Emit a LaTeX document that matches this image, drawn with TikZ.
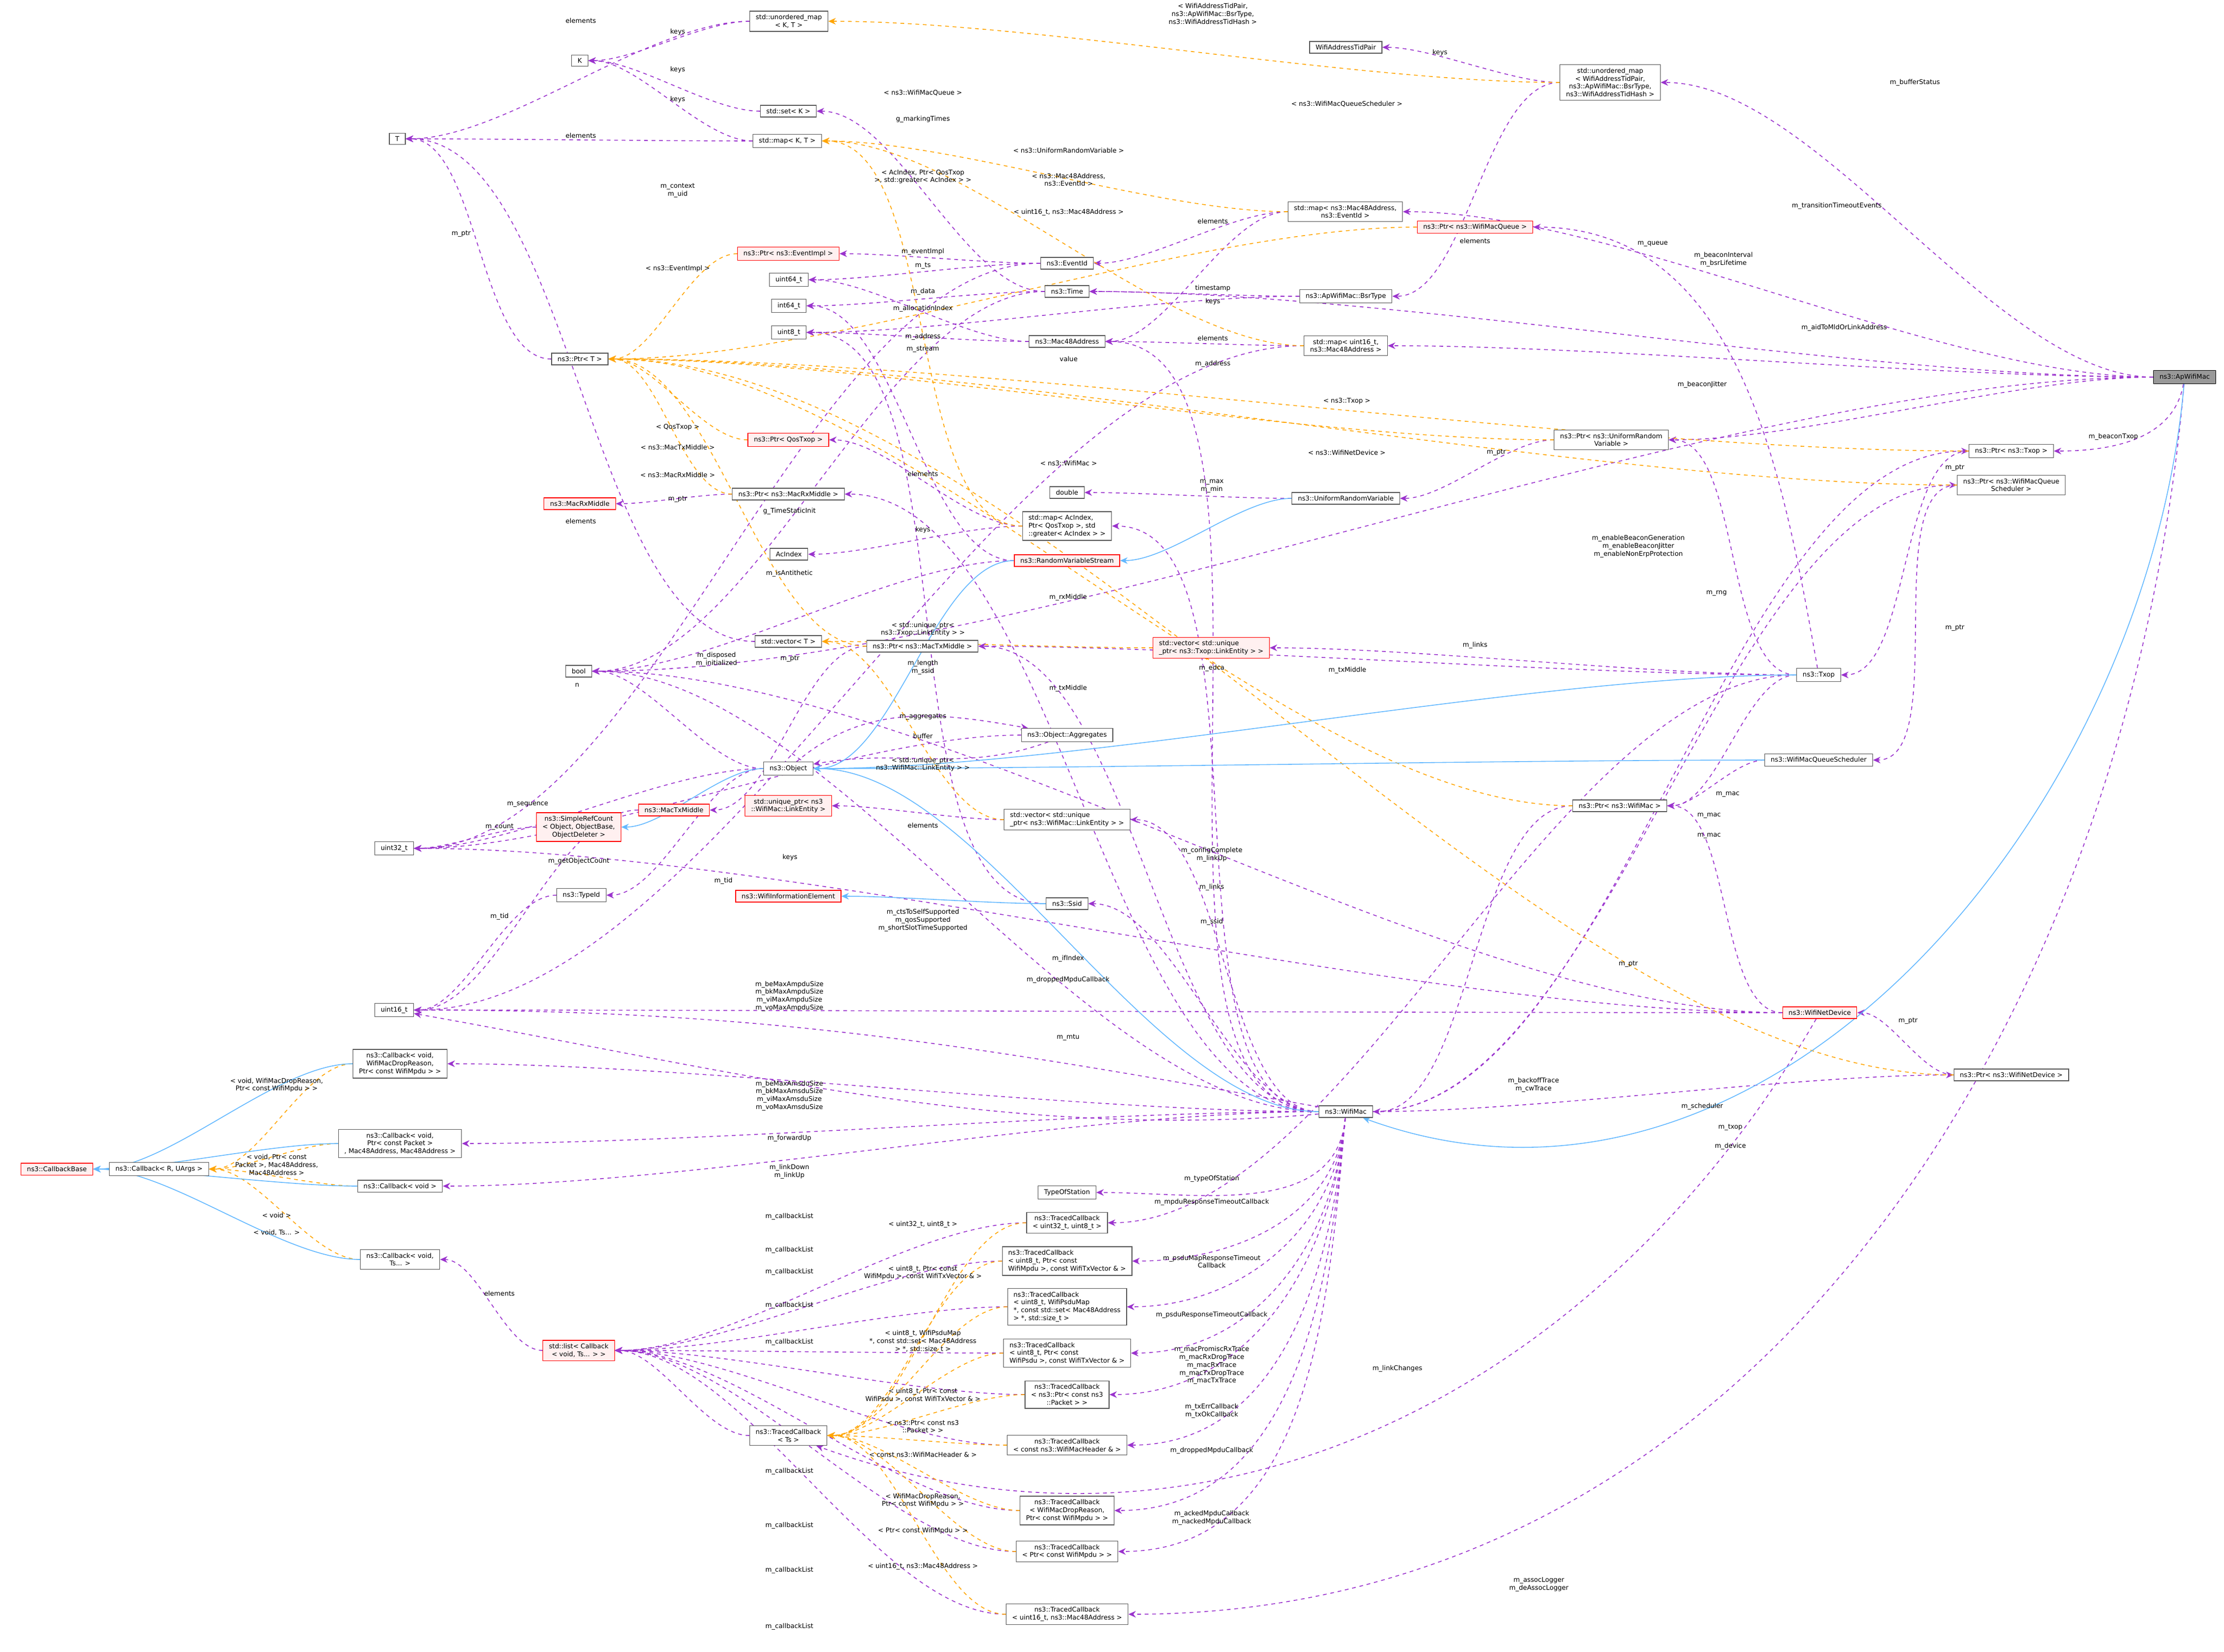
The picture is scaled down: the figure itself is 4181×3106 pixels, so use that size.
\documentclass[tikz,border=0pt]{standalone}
\usepackage{fontspec}
\setmainfont{DejaVu Sans}
\usetikzlibrary{arrows.meta}
\pgfdeclarelayer{bg}\pgfsetlayers{bg,main}
\definecolor{pu}{HTML}{9A32CD}
\definecolor{orr}{HTML}{FFA500}
\definecolor{bl}{HTML}{63B8FF}
\begin{document}
\begin{tikzpicture}[x=0.01cm,y=-0.01cm,
  font=\fontsize{3.5}{4.2}\selectfont,
  bx/.style={draw=black!65,fill=white,line width=0.35pt,inner xsep=3.2pt,inner ysep=1.8pt,align=center},
  rbx/.style={bx,draw=red,fill=red!6},
  gbx/.style={bx,draw=black,fill=black!40},
  lb/.style={inner sep=0.5pt,align=center},
  u/.style={draw=pu,dashed,dash pattern=on 2pt off 2pt,line width=0.45pt,-{Stealth[length=4pt,width=3.5pt]}},
  t/.style={draw=orr,dashed,dash pattern=on 2pt off 2pt,line width=0.45pt,-{Stealth[length=4pt,width=3.5pt]}},
  h/.style={draw=bl,line width=0.45pt,-{Stealth[length=4pt,width=3.5pt]}},
  c/.style={out=180,in=0,looseness=0.7},
  cr/.style={out=0,in=180,looseness=0.7}]
\useasboundingbox (0,0) rectangle (4181,3106);
% nodes
\node[bx] (umKT) at (1483,40) {std::unordered\_map\\< K, T >};
\node[bx] (K) at (1090,114) {K};
\node[bx] (watp) at (2530,89) {WifiAddressTidPair};
\node[bx] (umBsr) at (3027,155) {std::unordered\_map\\< WifiAddressTidPair,\\ ns3::ApWifiMac::BsrType,\\ ns3::WifiAddressTidHash >};
\node[bx] (setK) at (1482,209) {std::set< K >};
\node[bx] (T) at (747,261) {T};
\node[bx] (mapKT) at (1480,265) {std::map< K, T >};
\node[bx] (mapMacEv) at (2529,398) {std::map< ns3::Mac48Address,\\ ns3::EventId >};
\node[rbx] (ptrWMQ) at (2773,427) {ns3::Ptr< ns3::WifiMacQueue >};
\node[rbx] (ptrEvI) at (1482,477) {ns3::Ptr< ns3::EventImpl >};
\node[bx] (evid) at (2006,495) {ns3::EventId};
\node[bx] (u64) at (1483,526) {uint64\_t};
\node[bx] (time) at (2006,548) {ns3::Time};
\node[bx] (bsr) at (2530,557) {ns3::ApWifiMac::BsrType};
\node[bx] (i64) at (1483,575) {int64\_t};
\node[bx] (u8) at (1483,625) {uint8\_t};
\node[bx] (mac48) at (2006,642) {ns3::Mac48Address};
\node[bx] (mapU16) at (2530,650) {std::map< uint16\_t,\\ ns3::Mac48Address >};
\node[bx] (ptrT) at (1090,675) {ns3::Ptr< T >};
\node[gbx] (apw) at (4107,709) {ns3::ApWifiMac};
\node[bx] (ptrURV) at (3029,827) {ns3::Ptr< ns3::UniformRandom\\ Variable >};
\node[rbx] (ptrQos) at (1482,827) {ns3::Ptr< QosTxop >};
\node[bx] (ptrTxop) at (3781,848) {ns3::Ptr< ns3::Txop >};
\node[bx] (ptrWMQS) at (3781,912) {ns3::Ptr< ns3::WifiMacQueue\\ Scheduler >};
\node[bx] (dbl) at (2006,926) {double};
\node[bx] (ptrRx) at (1482,929) {ns3::Ptr< ns3::MacRxMiddle >};
\node[bx] (urv) at (2530,937) {ns3::UniformRandomVariable};
\node[rbx] (rx) at (1090,947) {ns3::MacRxMiddle};
\node[bx,align=left] (mapAc) at (2006,989) {std::map< AcIndex,\\ Ptr< QosTxop >, std\\ ::greater< AcIndex > >};
\node[bx] (acidx) at (1483,1042) {AcIndex};
\node[rbx] (rvs) at (2006,1054) {ns3::RandomVariableStream};
\node[bx] (vecT) at (1482,1206) {std::vector< T >};
\node[bx] (ptrTx) at (1734,1215) {ns3::Ptr< ns3::MacTxMiddle >};
\node[rbx,align=left] (vecTxLE) at (2277,1218) {std::vector< std::unique\\ \_ptr< ns3::Txop::LinkEntity > >};
\node[bx] (bool) at (1088,1262) {bool};
\node[bx] (txop) at (3419,1269) {ns3::Txop};
\node[bx] (aggr) at (2006,1382) {ns3::Object::Aggregates};
\node[bx] (wmqs) at (3419,1429) {ns3::WifiMacQueueScheduler};
\node[bx] (obj) at (1482,1445) {ns3::Object};
\node[bx] (ptrWM) at (3045,1515) {ns3::Ptr< ns3::WifiMac >};
\node[rbx] (upWMLE) at (1482,1515) {std::unique\_ptr< ns3\\ ::WifiMac::LinkEntity >};
\node[rbx] (tx) at (1267,1523) {ns3::MacTxMiddle};
\node[bx,align=left] (vecWMLE) at (2006,1541) {std::vector< std::unique\\ \_ptr< ns3::WifiMac::LinkEntity > >};
\node[rbx] (src) at (1088,1555) {ns3::SimpleRefCount\\ < Object, ObjectBase,\\ ObjectDeleter >};
\node[bx] (u32) at (741,1595) {uint32\_t};
\node[bx] (tid) at (1093,1683) {ns3::TypeId};
\node[rbx] (wie) at (1482,1685) {ns3::WifiInformationElement};
\node[bx] (ssid) at (2006,1699) {ns3::Ssid};
\node[bx] (u16) at (741,1899) {uint16\_t};
\node[rbx] (wnd) at (3421,1904) {ns3::WifiNetDevice};
\node[bx] (cbDrop) at (752,2000) {ns3::Callback< void,\\ WifiMacDropReason,\\ Ptr< const WifiMpdu > >};
\node[bx] (ptrWND) at (3781,2021) {ns3::Ptr< ns3::WifiNetDevice >};
\node[bx] (wm) at (2530,2090) {ns3::WifiMac};
\node[bx] (cbPkt) at (752,2150) {ns3::Callback< void,\\ Ptr< const Packet >\\ , Mac48Address, Mac48Address >};
\node[rbx] (cbBase) at (107,2198) {ns3::CallbackBase};
\node[bx] (cbRU) at (299,2198) {ns3::Callback< R, UArgs >};
\node[bx] (cbVoid) at (752,2230) {ns3::Callback< void >};
\node[bx] (tos) at (2006,2242) {TypeOfStation};
\node[bx] (tc32) at (2006,2299) {ns3::TracedCallback\\ < uint32\_t, uint8\_t >};
\node[bx] (cbTs) at (752,2368) {ns3::Callback< void,\\ Ts... >};
\node[bx,align=left] (tcMpdu) at (2006,2371) {ns3::TracedCallback\\ < uint8\_t, Ptr< const\\ WifiMpdu >, const WifiTxVector \& >};
\node[bx,align=left] (tcMap) at (2006,2457) {ns3::TracedCallback\\ < uint8\_t, WifiPsduMap\\ *, const std::set< Mac48Address\\ > *, std::size\_t >};
\node[rbx] (list) at (1088,2539) {std::list< Callback\\ < void, Ts... > >};
\node[bx,align=left] (tcPsdu) at (2006,2544) {ns3::TracedCallback\\ < uint8\_t, Ptr< const\\ WifiPsdu >, const WifiTxVector \& >};
\node[bx] (tcPkt) at (2006,2622) {ns3::TracedCallback\\ < ns3::Ptr< const ns3\\ ::Packet > >};
\node[bx] (tcTs) at (1482,2699) {ns3::TracedCallback\\ < Ts >};
\node[bx] (tcHdr) at (2006,2717) {ns3::TracedCallback\\ < const ns3::WifiMacHeader \& >};
\node[bx] (tcDrop) at (2006,2840) {ns3::TracedCallback\\ < WifiMacDropReason,\\ Ptr< const WifiMpdu > >};
\node[bx] (tcPM) at (2006,2917) {ns3::TracedCallback\\ < Ptr< const WifiMpdu > >};
\node[bx] (tcAssoc) at (2006,3035) {ns3::TracedCallback\\ < uint16\_t, ns3::Mac48Address >};
% labels
\node[lb] (l1) at (1092,39) {elements};
\node[lb] (l2) at (1274,60) {keys};
\node[lb] (l3) at (1274,131) {keys};
\node[lb] (l4) at (1274,187) {keys};
\node[lb] (l5) at (1092,255) {elements};
\node[lb] (l6) at (2280,26) {< WifiAddressTidPair,\\ ns3::ApWifiMac::BsrType,\\ ns3::WifiAddressTidHash >};
\node[lb] (l7) at (1735,175) {< ns3::WifiMacQueue >};
\node[lb] (l8) at (2532,196) {< ns3::WifiMacQueueScheduler >};
\node[lb] (l9) at (1735,224) {g\_markingTimes};
\node[lb] (l10) at (2009,283) {< ns3::UniformRandomVariable >};
\node[lb] (l11) at (2009,338) {< ns3::Mac48Address,\\ ns3::EventId >};
\node[lb] (l12) at (1735,332) {< AcIndex, Ptr< QosTxop\\ >, std::greater< AcIndex > >};
\node[lb] (l13) at (1274,358) {m\_context\\ m\_uid};
\node[lb] (l14) at (2009,399) {< uint16\_t, ns3::Mac48Address >};
\node[lb] (l15) at (2280,416) {elements};
\node[lb] (l16) at (1735,473) {m\_eventImpl};
\node[lb] (l17) at (1274,505) {< ns3::EventImpl >};
\node[lb] (l18) at (1735,500) {m\_ts};
\node[lb] (l19) at (2280,542) {timestamp};
\node[lb] (l20) at (1735,548) {m\_data};
\node[lb] (l21) at (2280,567) {keys};
\node[lb] (l22) at (1735,580) {m\_allocationIndex};
\node[lb] (l23) at (1735,633) {m\_address};
\node[lb] (l24) at (2280,636) {elements};
\node[lb] (l25) at (1735,657) {m\_stream};
\node[lb] (l26) at (2009,675) {value};
\node[lb] (l27) at (2280,684) {m\_address};
\node[lb] (l28) at (2532,754) {< ns3::Txop >};
\node[lb] (l29) at (1274,803) {< QosTxop >};
\node[lb] (l30) at (1274,841) {< ns3::MacTxMiddle >};
\node[lb] (l31) at (2532,851) {< ns3::WifiNetDevice >};
\node[lb] (l32) at (2009,871) {< ns3::WifiMac >};
\node[lb] (l33) at (1735,891) {elements};
\node[lb] (l34) at (1274,893) {< ns3::MacRxMiddle >};
\node[lb] (l35) at (1274,939) {m\_ptr};
\node[lb] (l36) at (1092,980) {elements};
\node[lb] (l37) at (867,440) {m\_ptr};
\node[lb] (l38) at (2707,99) {keys};
\node[lb] (l39) at (3600,155) {m\_bufferStatus};
\node[lb] (l40) at (3453,387) {m\_transitionTimeoutEvents};
\node[lb] (l41) at (3107,459) {m\_queue};
\node[lb] (l42) at (3240,488) {m\_beaconInterval\\ m\_bsrLifetime};
\node[lb] (l43) at (2773,453) {elements};
\node[lb] (l44) at (3467,616) {m\_aidToMldOrLinkAddress};
\node[lb] (l45) at (3200,723) {m\_beaconJitter};
\node[lb] (l46) at (2813,851) {m\_ptr};
\node[lb] (l47) at (3973,821) {m\_beaconTxop};
\node[lb] (l48) at (3675,880) {m\_ptr};
\node[lb] (l49) at (2278,914) {m\_max\\ m\_min};
\node[lb] (l50) at (1484,961) {g\_TimeStaticInit};
\node[lb] (l51) at (1735,996) {keys};
\node[lb] (l52) at (3080,1027) {m\_enableBeaconGeneration\\ m\_enableBeaconJitter\\ m\_enableNonErpProtection};
\node[lb] (l53) at (1484,1078) {m\_isAntithetic};
\node[lb] (l54) at (3227,1115) {m\_rng};
\node[lb] (l55) at (2008,1123) {m\_rxMiddle};
\node[lb] (l56) at (3675,1181) {m\_ptr};
\node[lb] (l57) at (1735,1183) {< std::unique\_ptr<\\ ns3::Txop::LinkEntity > >};
\node[lb] (l58) at (2773,1213) {m\_links};
\node[lb] (l59) at (1485,1239) {m\_ptr};
\node[lb] (l60) at (1347,1240) {m\_disposed\\ m\_initialized};
\node[lb] (l61) at (1735,1255) {m\_length\\ m\_ssid};
\node[lb] (l62) at (2278,1256) {m\_edca};
\node[lb] (l63) at (2533,1260) {m\_txMiddle};
\node[lb] (l64) at (1085,1288) {n};
\node[lb] (l65) at (2008,1294) {m\_txMiddle};
\node[lb] (l66) at (1735,1348) {m\_aggregates};
\node[lb] (l67) at (1735,1384) {buffer};
\node[lb] (l68) at (1735,1437) {< std::unique\_ptr<\\ ns3::WifiMac::LinkEntity > >};
\node[lb] (l69) at (3248,1493) {m\_mac};
\node[lb] (l70) at (992,1512) {m\_sequence};
\node[lb] (l71) at (3213,1533) {m\_mac};
\node[lb] (l72) at (1735,1552) {elements};
\node[lb] (l73) at (939,1555) {m\_count};
\node[lb] (l74) at (3213,1571) {m\_mac};
\node[lb] (l75) at (2278,1607) {m\_configComplete\\ m\_linkUp};
\node[lb] (l76) at (1485,1612) {keys};
\node[lb] (l77) at (1088,1619) {m\_getObjectCount};
\node[lb] (l78) at (1360,1656) {m\_tid};
\node[lb] (l79) at (2278,1668) {m\_links};
\node[lb] (l80) at (939,1723) {m\_tid};
\node[lb] (l81) at (1735,1730) {m\_ctsToSelfSupported\\ m\_qosSupported\\ m\_shortSlotTimeSupported};
\node[lb] (l82) at (2278,1733) {m\_ssid};
\node[lb] (l83) at (2008,1802) {m\_ifIndex};
\node[lb] (l84) at (3061,1813) {m\_ptr};
\node[lb] (l85) at (2008,1842) {m\_droppedMpduCallback};
\node[lb] (l86) at (1484,1873) {m\_beMaxAmpduSize\\ m\_bkMaxAmpduSize\\ m\_viMaxAmpduSize\\ m\_voMaxAmpduSize};
\node[lb] (l87) at (3587,1920) {m\_ptr};
\node[lb] (l88) at (2008,1951) {m\_mtu};
\node[lb] (l89) at (2883,2040) {m\_backoffTrace\\ m\_cwTrace};
\node[lb] (l90) at (520,2040) {< void, WifiMacDropReason,\\ Ptr< const WifiMpdu > >};
\node[lb] (l91) at (1484,2060) {m\_beMaxAmsduSize\\ m\_bkMaxAmsduSize\\ m\_viMaxAmsduSize\\ m\_voMaxAmsduSize};
\node[lb] (l92) at (3200,2080) {m\_scheduler};
\node[lb] (l93) at (3253,2120) {m\_txop};
\node[lb] (l94) at (1484,2140) {m\_forwardUp};
\node[lb] (l95) at (3253,2155) {m\_device};
\node[lb] (l96) at (520,2190) {< void, Ptr< const\\ Packet >, Mac48Address,\\ Mac48Address >};
\node[lb] (l97) at (1484,2203) {m\_linkDown\\ m\_linkUp};
\node[lb] (l98) at (2278,2216) {m\_typeOfStation};
\node[lb] (l99) at (2278,2260) {m\_mpduResponseTimeoutCallback};
\node[lb] (l100) at (520,2285) {< void >};
\node[lb] (l101) at (1484,2287) {m\_callbackList};
\node[lb] (l102) at (1735,2302) {< uint32\_t, uint8\_t >};
\node[lb] (l103) at (520,2318) {< void, Ts... >};
\node[lb] (l104) at (1484,2350) {m\_callbackList};
\node[lb] (l105) at (2278,2372) {m\_psduMapResponseTimeout\\ Callback};
\node[lb] (l106) at (1484,2391) {m\_callbackList};
\node[lb] (l107) at (1735,2393) {< uint8\_t, Ptr< const\\ WifiMpdu >, const WifiTxVector \& >};
\node[lb] (l108) at (939,2432) {elements};
\node[lb] (l109) at (1484,2454) {m\_callbackList};
\node[lb] (l110) at (2278,2472) {m\_psduResponseTimeoutCallback};
\node[lb] (l111) at (1484,2523) {m\_callbackList};
\node[lb] (l112) at (1735,2522) {< uint8\_t, WifiPsduMap\\ *, const std::set< Mac48Address\\ > *, std::size\_t >};
\node[lb] (l113) at (2278,2567) {m\_macPromiscRxTrace\\ m\_macRxDropTrace\\ m\_macRxTrace\\ m\_macTxDropTrace\\ m\_macTxTrace};
\node[lb] (l114) at (2627,2573) {m\_linkChanges};
\node[lb] (l115) at (1735,2623) {< uint8\_t, Ptr< const\\ WifiPsdu >, const WifiTxVector \& >};
\node[lb] (l116) at (2278,2653) {m\_txErrCallback\\ m\_txOkCallback};
\node[lb] (l117) at (1735,2682) {< ns3::Ptr< const ns3\\ ::Packet > >};
\node[lb] (l118) at (2278,2727) {m\_droppedMpduCallback};
\node[lb] (l119) at (1735,2735) {< const ns3::WifiMacHeader \& >};
\node[lb] (l120) at (1484,2766) {m\_callbackList};
\node[lb] (l121) at (1735,2821) {< WifiMacDropReason,\\ Ptr< const WifiMpdu > >};
\node[lb] (l122) at (2278,2854) {m\_ackedMpduCallback\\ m\_nackedMpduCallback};
\node[lb] (l123) at (1484,2868) {m\_callbackList};
\node[lb] (l124) at (1735,2878) {< Ptr< const WifiMpdu > >};
\node[lb] (l125) at (1735,2945) {< uint16\_t, ns3::Mac48Address >};
\node[lb] (l126) at (1484,2952) {m\_callbackList};
\node[lb] (l127) at (2893,2979) {m\_assocLogger\\ m\_deAssocLogger};
\node[lb] (l128) at (1484,3058) {m\_callbackList};
\begin{pgfonlayer}{bg}
% usage edges
\draw[u] (umKT) to[c] (T);
\draw[u] (umKT) to[c] (K);
\draw[u] (setK) to[c] (K);
\draw[u] (mapKT) to[c] (K);
\draw[u] (mapKT) to[c] (T);
\draw[u] (ptrT) to[c] (T);
\draw[u] (evid) to[c] (ptrEvI);
\draw[u] (evid) to[c] (u64);
\draw[u] (evid) to[c] (u32);
\draw[u] (time) to[c] (i64);
\draw[u] (time) to[c] (setK);
\draw[u] (time) to[c] (bool);
\draw[u] (mac48) to[c] (u8);
\draw[u] (mac48) to[c] (u64);
\draw[u] (mapMacEv) to[c] (evid);
\draw[u] (mapMacEv) to[c] (mac48);
\draw[u] (bsr) to[c] (time);
\draw[u] (bsr) to[c] (u8);
\draw[u] (mapU16) to[c] (mac48);
\draw[u] (mapU16) to[c] (u16);
\draw[u] (ptrRx) to[c] (rx);
\draw[u] (rvs) to[c] (bool);
\draw[u] (rvs) to[c] (i64);
\draw[u] (urv) to[c] (dbl);
\draw[u] (mapAc) to[c] (acidx);
\draw[u] (mapAc) to[c] (ptrQos);
\draw[u] (obj) to[out=40,in=170] (aggr);
\draw[u] (aggr) to[out=200,in=10] (obj);
\draw[u] (vecWMLE) to[c] (upWMLE);
\draw[u] (ssid) to[c] (u8);
\draw[u] (vecT) to[c] (T);
\draw[u] (src) to[c] (u32);
\draw[u] (obj) to[c] (bool);
\draw[u] (obj) to[c] (u32);
\draw[u] (obj) to[c] (tid);
\draw[u] (tid) to[c] (u16);
\draw[u] (ptrTx) to[c] (tx);
\draw[u] (tx) to[c] (u16);
\draw[u] (aggr) to[c] (u32);
\foreach \n in {tc32,tcMpdu,tcMap,tcPsdu,tcPkt,tcTs,tcHdr,tcDrop,tcPM,tcAssoc}
  \draw[u] (\n) to[c] (list);
\draw[u] (list) to[c] (cbTs);
\draw[u] (wm) to[c] (mac48);
\draw[u] (wm) to[c] (bool);
\draw[u] (wm) to[c] (ptrRx);
\draw[u] (wm) to[c] (ptrTx);
\draw[u] (wm) to[c] (mapAc);
\draw[u] (wm) to[c] (vecWMLE);
\draw[u] (wm) to[c] (ssid);
\draw[u] (wm) to[c] (cbDrop);
\draw[u] (wm) to[out=170,in=0] (u16);
\draw[u] (wm) to[out=185,in=-10,looseness=0.9] (u16);
\draw[u] (wm) to[c] (cbPkt);
\draw[u] (wm) to[c] (cbVoid);
\foreach \n in {tos,tcMpdu,tcMap,tcPsdu,tcPkt,tcHdr,tcDrop,tcPM}
  \draw[u] (wm) to[out=265,in=0] (\n);
\draw[u] (wm) to[cr] (ptrTxop);
\draw[u] (wm) to[cr] (ptrWMQS);
\draw[u] (wm) to[cr] (ptrWND);
\draw[u] (wnd) to[c] (bool);
\draw[u] (wnd) to[c] (u32);
\draw[u] (wnd) to[c] (u16);
\draw[u] (wnd) to[c] (ptrWM);
\draw[u] (wnd) to[out=240,in=-20] (tcTs);
\draw[u] (apw) to[c] (umBsr);
\draw[u] (apw) to[c] (mapMacEv);
\draw[u] (apw) to[c] (time);
\draw[u] (apw) to[c] (mapU16);
\draw[u] (apw) to[c] (ptrURV);
\draw[u] (apw) to[out=260,in=0] (ptrTxop);
\draw[u] (apw) to[c] (bool);
\draw[u] (apw) to[out=265,in=0] (tcAssoc);
\draw[u] (umBsr) to[c] (watp);
\draw[u] (umBsr) to[c] (bsr);
\draw[u] (ptrURV) to[c] (urv);
\draw[u] (txop) to[out=100,in=0] (ptrWMQ);
\draw[u] (txop) to[c] (ptrURV);
\draw[u] (txop) to[c] (vecTxLE);
\draw[u] (txop) to[c] (ptrTx);
\draw[u] (txop) to[c] (ptrWM);
\draw[u] (txop) to[c] (tc32);
\draw[u] (ptrTxop) to[c] (txop);
\draw[u] (ptrWMQS) to[c] (wmqs);
\draw[u] (wmqs) to[c] (ptrWM);
\draw[u] (ptrWM) to[c] (wm);
\draw[u] (ptrWND) to[c] (wnd);
% template edges
\draw[t] (umBsr) to[c] (umKT);
\foreach \n in {ptrEvI,ptrQos,ptrTx,ptrRx,ptrWMQ,ptrWMQS,ptrURV,ptrTxop,ptrWND,ptrWM}
  \draw[t] (\n) to[c] (ptrT);
\draw[t] (mapMacEv) to[c] (mapKT);
\draw[t] (mapU16) to[c] (mapKT);
\draw[t] (mapAc) to[c] (mapKT);
\draw[t] (vecTxLE) to[c] (vecT);
\draw[t] (vecWMLE) to[c] (vecT);
\foreach \n in {cbDrop,cbPkt,cbVoid,cbTs}
  \draw[t] (\n) to[c] (cbRU);
\foreach \n in {tc32,tcMpdu,tcMap,tcPsdu,tcPkt,tcHdr,tcDrop,tcPM,tcAssoc}
  \draw[t] (\n) to[c] (tcTs);
% inheritance
\draw[h] (apw) to[out=265,in=-20] (wm);
\draw[h] (urv) to[c] (rvs);
\draw[h] (rvs) to[c] (obj);
\draw[h] (txop) to[c] (obj);
\draw[h] (wmqs) to[c] (obj);
\draw[h] (wm) to[c] (obj);
\draw[h] (obj) to[c] (src);
\draw[h] (ssid) to[c] (wie);
\foreach \n in {cbRU,cbDrop,cbPkt,cbVoid,cbTs}
  \draw[h] (\n) to[c] (cbBase);
\end{pgfonlayer}
\end{tikzpicture}
\end{document}
